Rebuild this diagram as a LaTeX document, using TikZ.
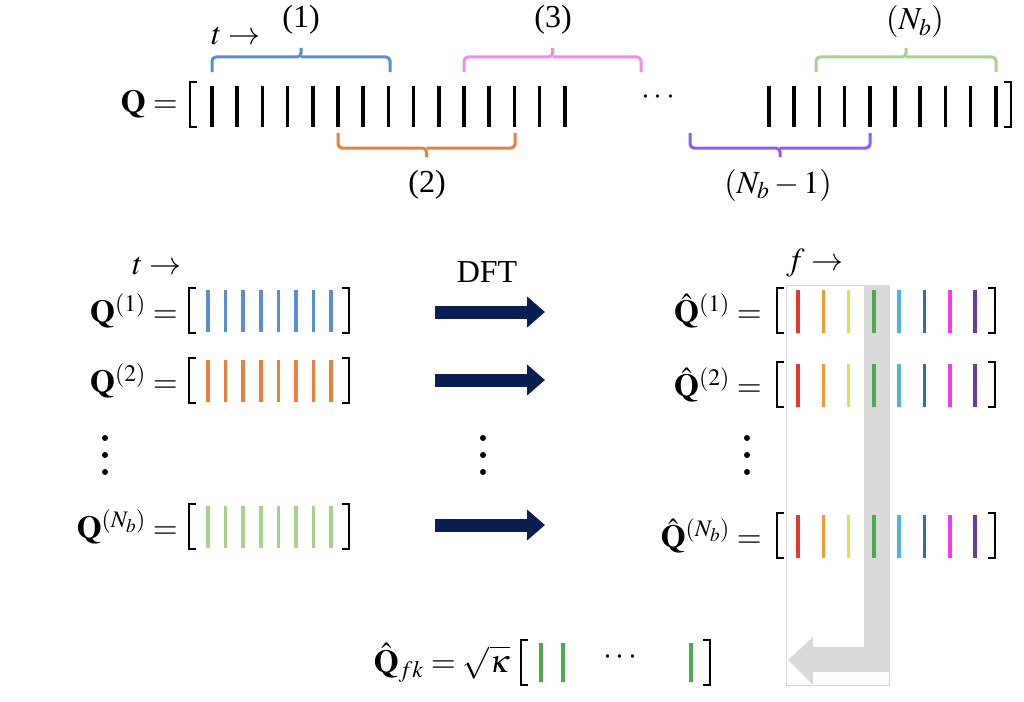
\documentclass[tikz,border=0pt]{standalone}
\usepackage{amsmath}
\usepackage{mathptmx}
\usepackage{fontspec}
\setmainfont{Liberation Serif}
\usetikzlibrary{arrows.meta}
\definecolor{cB}{RGB}{91,142,206}
\definecolor{cO}{RGB}{230,128,60}
\definecolor{cP}{RGB}{240,140,240}
\definecolor{cV}{RGB}{138,92,245}
\definecolor{cG}{RGB}{169,209,142}
\definecolor{s1}{RGB}{232,56,42}
\definecolor{s2}{RGB}{240,155,50}
\definecolor{s3}{RGB}{228,224,70}
\definecolor{s4}{RGB}{76,170,80}
\definecolor{s5}{RGB}{80,176,234}
\definecolor{s6}{RGB}{46,109,180}
\definecolor{s7}{RGB}{238,60,240}
\definecolor{s8}{RGB}{106,58,158}
\definecolor{navy}{RGB}{10,30,80}
\tikzset{
 txt/.style={font=\fontsize{32}{34}\selectfont, inner sep=0pt},
 br/.style={line width=3pt,rounded corners=4pt},
 bar/.style={line width=3.5pt},
 cbar/.style={line width=3.5pt},
 sq/.style={line width=1.6pt},
 dot/.style={fill=black,circle,inner sep=0pt,minimum size=6pt},
 dft/.style={-{Triangle[length=18pt,width=30pt]},line width=13pt,navy}
}
\newcommand{\lbrk}[3]{\draw[sq] (#1+7,#2) -- (#1,#2) -- (#1,#3) -- (#1+7,#3);}
\newcommand{\rbrk}[3]{\draw[sq] (#1-7,#2) -- (#1,#2) -- (#1,#3) -- (#1-7,#3);}
\newcommand{\tbrace}[4]{\draw[br,#4] (#1,#3+15) -- (#1,#3) -- ({(#1+#2)/2},#3) -- ({(#1+#2)/2},#3-9); \draw[br,#4] ({(#1+#2)/2},#3) -- (#2,#3) -- (#2,#3+15);}
\newcommand{\bbrace}[4]{\draw[br,#4] (#1,#3-15) -- (#1,#3) -- ({(#1+#2)/2},#3) -- ({(#1+#2)/2},#3+9); \draw[br,#4] ({(#1+#2)/2},#3) -- (#2,#3) -- (#2,#3-15);}
\begin{document}
\begin{tikzpicture}[x=1pt,y=-1pt]
\useasboundingbox (0,0) rectangle (1024,701);
% top
\node[txt,anchor=east] (Q) at (178,104) {$\mathbf{Q}=$};
\lbrk{190}{82}{127}
\foreach \i in {0,...,14} \draw[bar] (212+25.2*\i,86) -- (212+25.2*\i,127);
\foreach \i in {0,...,9} \draw[bar] (769+25.2*\i,86) -- (769+25.2*\i,127);
\rbrk{1011}{82}{127}
\node[txt] (dots) at (660,98) {$\cdots$};
\tbrace{212}{390}{57}{cB}
\tbrace{464}{641}{57}{cP}
\tbrace{816}{996}{57}{cG}
\bbrace{338}{515}{148}{cO}
\bbrace{690}{870}{148}{cV}
\node[txt] (l1) at (301,20) {(1)};
\node[txt] (l3) at (553,20) {(3)};
\node[txt] (lN) at (915,22) {$(N_b)$};
\node[txt] (l2) at (427,185) {(2)};
\node[txt] (lN1) at (778,185) {$(N_b-1)$};
\node[txt] (t1) at (236,36) {$t\rightarrow$};
% middle left
\node[txt] (t2) at (157,266) {$t\rightarrow$};
\foreach \y/\c/\lab in {311/cB/{(1)},381/cO/{(2)},527/cG/{(N_b)}}{
 \node[txt,anchor=east] at (178,\y) {$\mathbf{Q}^{\lab}=$};
 \lbrk{189}{\y-23}{\y+22}
 \foreach \i in {0,...,7} \draw[cbar,\c] (208+17.6*\i,\y-21) -- (208+17.6*\i,\y+21);
 \rbrk{349}{\y-23}{\y+22}
}
\foreach \yy in {438,455,472} {\node[dot] at (105,\yy) {}; \node[dot] at (483,\yy) {}; \node[dot] at (747,\yy) {};}
\node[txt] (DFT) at (487,272) {DFT};
\coordinate (a1) at (435,312); \coordinate (b1) at (545,312);
\coordinate (a2) at (435,380); \coordinate (b2) at (545,380);
\coordinate (a3) at (435,525); \coordinate (b3) at (545,525);
\draw[dft] (a1) -- (b1); \draw[dft] (a2) -- (b2); \draw[dft] (a3) -- (b3);
% gray box and arrow
\node[draw=black!15,line width=1pt,minimum width=103pt,minimum height=400pt,inner sep=0pt] (box) at (837.5,485) {};
\fill[black!15] (864,285) -- (889,285) -- (889,672) -- (813,672) -- (813,685) -- (788,660) -- (813,637) -- (813,647) -- (864,647) -- cycle;
% right
\node[txt] (f) at (815,263) {$f\rightarrow$};
\foreach \y/\lab in {311/{(1)},385/{(2)},536/{(N_b)}}{
 \node[txt,anchor=east] at (762,\y) {$\hat{\mathbf{Q}}^{\lab}=$};
 \lbrk{777}{\y-23}{\y+22}
 \foreach \c [count=\k from 0] in {s1,s2,s3,s4,s5,s6,s7,s8} \draw[cbar,\c] (798+25.3*\k,\y-21) -- (798+25.3*\k,\y+22);
 \rbrk{995}{\y-23}{\y+22}
}
% bottom
\node[txt,anchor=east] (Qfk) at (510,663) {$\hat{\mathbf{Q}}_{fk}=\sqrt{\kappa}$};
\lbrk{521}{640}{685}
\draw[cbar,s4] (541,643) -- (541,682);
\draw[cbar,s4] (563,643) -- (563,682);
\draw[cbar,s4] (691,643) -- (691,682);
\node[txt] (d2) at (622,657) {$\cdots$};
\rbrk{710}{640}{685}
\end{tikzpicture}
\end{document}
